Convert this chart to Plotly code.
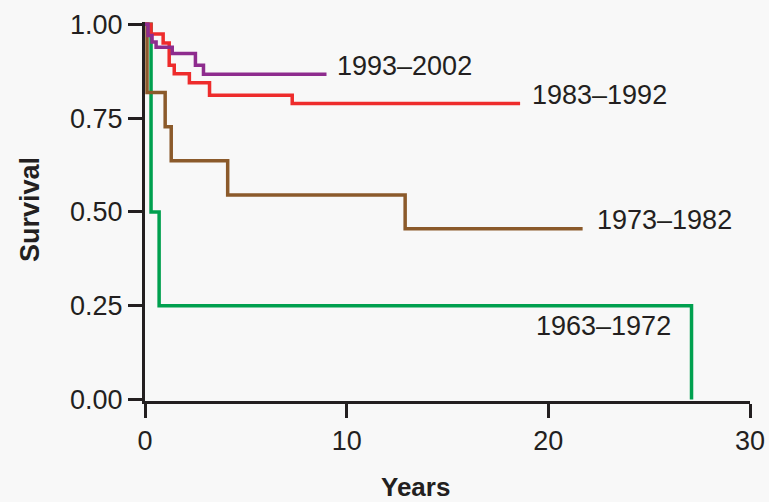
import plotly.graph_objects as go

# Kaplan-Meier step data (time in years, survival proportion)
t_1963 = [0, 0.3, 0.7, 27.1]
s_1963 = [1.0, 0.5, 0.25, 0.0]

t_1973 = [0, 0.1, 1.0, 1.3, 4.1, 12.9, 21.7]
s_1973 = [1.0, 0.818, 0.727, 0.636, 0.545, 0.455, 0.455]

t_1983 = [0, 0.3, 0.9, 1.2, 1.45, 2.2, 3.2, 7.3, 18.6]
s_1983 = [1.0, 0.974, 0.950, 0.891, 0.868, 0.844, 0.811, 0.789, 0.789]

t_1993 = [0, 0.15, 0.35, 0.55, 1.35, 2.5, 2.9, 9.0]
s_1993 = [1.0, 0.97, 0.953, 0.939, 0.922, 0.891, 0.867, 0.867]

labels = ["1963\u20131972", "1973\u20131982", "1983\u20131992", "1993\u20132002"]
colors = ["#00A04F", "#8B5A2B", "#EE2C2C", "#8E2C8E"]

x_ticks = [0, 10, 20, 30]
y_ticks = [0.0, 0.25, 0.5, 0.75, 1.0]

series = [(t_1963, s_1963), (t_1973, s_1973), (t_1983, s_1983), (t_1993, s_1993)]

W, H = 769, 502
ML, MR, MT, MB = 145, 19, 22, 101

fig = go.Figure()
for (t, s), lab, col in zip(series, labels, colors):
    fig.add_trace(go.Scatter(x=t, y=s, mode="lines", line=dict(color=col, width=3.5, shape="hv"),
                             name=lab, showlegend=False))

ink = "#231F20"
font = "Liberation Sans, Arial, sans-serif"

label_pos = {
    "1993\u20132002": (9.4, 0.888),
    "1983\u20131992": (19.1, 0.812),
    "1973\u20131982": (22.3, 0.478),
    "1963\u20131972": (19.3, 0.197),
}
for lab in labels:
    x, y = label_pos[lab]
    fig.add_annotation(x=x, y=y, xref="x", yref="y", text=lab, showarrow=False,
                       xanchor="left", yanchor="middle",
                       font=dict(family=font, size=27, color=ink))

plot_w = W - ML - MR
plot_h = H - MT - MB
fig.add_annotation(x=(415 - ML) / plot_w, y=-(487 - (H - MB)) / plot_h,
                   xref="paper", yref="paper", text="<b>Years</b>", showarrow=False,
                   xanchor="center", yanchor="middle",
                   font=dict(family=font, size=26, color=ink))
fig.add_annotation(x=(30 - ML) / plot_w, y=((H - MB) - 210) / plot_h,
                   xref="paper", yref="paper", text="<b>Survival</b>", showarrow=False,
                   textangle=-90, xanchor="center", yanchor="middle",
                   font=dict(family=font, size=27, color=ink))

fig.update_layout(
    width=W, height=H,
    margin=dict(l=ML, r=MR, t=MT, b=MB, autoexpand=False),
    paper_bgcolor="#F8F8F8", plot_bgcolor="#F8F8F8",
    font=dict(family=font, size=27, color=ink),
    xaxis=dict(range=[0, 30], tickvals=x_ticks, ticks="outside", ticklen=14, tickwidth=3,
               tickcolor=ink, showline=True, linecolor=ink, linewidth=3,
               showgrid=False, zeroline=False, tickfont=dict(size=27, color=ink)),
    yaxis=dict(range=[-0.004, 1.006], tickvals=y_ticks, tickformat=".2f", ticks="outside",
               ticklen=14, tickwidth=3, tickcolor=ink, showline=True, linecolor=ink,
               linewidth=3, showgrid=False, zeroline=False, tickfont=dict(size=27, color=ink)),
)

fig.write_html("out.html", config={"displayModeBar": False},
               post_script="document.body.style.margin='0px';document.body.style.background='#F8F8F8';")
